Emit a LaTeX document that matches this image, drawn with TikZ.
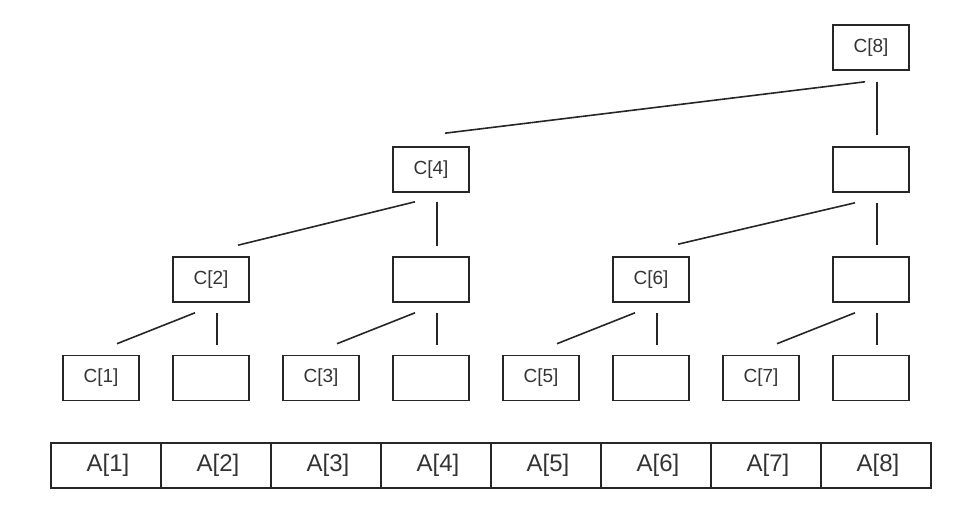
\documentclass[tikz,border=0pt]{standalone}
\usepackage{fontspec}
\setmainfont{Liberation Sans}
\usetikzlibrary{calc}
\begin{document}
\begin{tikzpicture}[x=1pt,y=-1pt,
  cbox/.style={draw=black!85, line width=1.6pt, minimum width=76pt, minimum height=45pt, inner sep=0pt, font=\fontsize{19}{22}\selectfont, text=black!80},
  acell/.style={draw=black!85, line width=1.6pt, minimum width=110pt, minimum height=45pt, inner sep=0pt, font=\fontsize{24}{26}\selectfont, text=black!80},
  link/.style={draw=black!85, line width=1.6pt}]
\useasboundingbox (0,0) rectangle (968,520);
% level 1
\node[cbox] (c8) at (871,47.5) {C[8]};
% level 2
\node[cbox] (c4) at (431,169.5) {C[4]};
\node[cbox] (e8b) at (871,169.5) {};
% level 3
\node[cbox] (c2) at (211,279.5) {C[2]};
\node[cbox] (e4c) at (431,279.5) {};
\node[cbox] (c6) at (651,279.5) {C[6]};
\node[cbox] (e8c) at (871,279.5) {};
% level 4
\node[cbox] (c1) at (101,378) {C[1]};
\node[cbox] (e2) at (211,378) {};
\node[cbox] (c3) at (321,378) {C[3]};
\node[cbox] (e4) at (431,378) {};
\node[cbox] (c5) at (541,378) {C[5]};
\node[cbox] (e6) at (651,378) {};
\node[cbox] (c7) at (761,378) {C[7]};
\node[cbox] (e8) at (871,378) {};
% array
\foreach \i in {1,...,8}{
  \node[acell] (a\i) at ({106+110*(\i-1)},465.5) {\hspace{4pt}A[\i]};
}
% slanted links
\draw[link] ($(c8.south)+(-6,11)$) -- ($(c4.north)+(14,-13)$);
\draw[link] ($(c4.south)+(-16,9)$) -- ($(c2.north)+(27,-11)$);
\draw[link] ($(e8b.south)+(-16,10)$) -- ($(c6.north)+(27,-12)$);
\draw[link] ($(c2.south)+(-16,10)$) -- ($(c1.north)+(16,-11)$);
\draw[link] ($(e4c.south)+(-16,10)$) -- ($(c3.north)+(16,-11)$);
\draw[link] ($(c6.south)+(-16,10)$) -- ($(c5.north)+(16,-11)$);
\draw[link] ($(e8c.south)+(-16,10)$) -- ($(c7.north)+(16,-11)$);
% vertical links
\draw[link] ($(c8.south)+(6,11)$) -- ($(e8b.north)+(6,-11)$);
\draw[link] ($(c4.south)+(6,9)$) -- ($(e4c.north)+(6,-10)$);
\draw[link] ($(e8b.south)+(6,10)$) -- ($(e8c.north)+(6,-11)$);
\draw[link] ($(c2.south)+(6,10)$) -- ($(e2.north)+(6,-10)$);
\draw[link] ($(e4c.south)+(6,10)$) -- ($(e4.north)+(6,-10)$);
\draw[link] ($(c6.south)+(6,10)$) -- ($(e6.north)+(6,-10)$);
\draw[link] ($(e8c.south)+(6,10)$) -- ($(e8.north)+(6,-10)$);
\end{tikzpicture}
\end{document}
